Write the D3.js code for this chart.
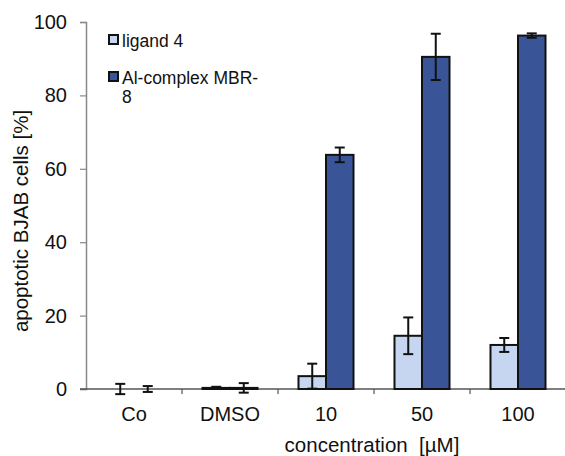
<!DOCTYPE html>
<html>
<head>
<meta charset="utf-8">
<script src="https://cdn.jsdelivr.net/npm/d3@7"></script>
<style>
  body { margin: 0; background: #fff; }
  text { font-family: "Liberation Sans", Arial, sans-serif; fill: #111; }
</style>
</head>
<body>
<div id="chart"></div>
<script>
// Data
const categories = ["Co", "DMSO", "10", "50", "100"];
const seriesNames = ["ligand 4", "Al-complex MBR-8"];
const ligandValues = [0, 0.3, 3.5, 14.5, 12.0];
const ligandErrors = [1.4, 0.3, 3.4, 5.0, 1.9];
const alValues = [0, 0.3, 63.8, 90.5, 96.3];
const alErrors = [0.8, 1.3, 2.0, 6.3, 0.6];
const yTicks = [0, 20, 40, 60, 80, 100];
const colors = ["#c6d5f0", "#3a5498"];

const W = 565, H = 456;
const margin = { top: 22, right: 0, bottom: 67, left: 86 };
const height = H - margin.top - margin.bottom;

const svg = d3.select("#chart")
    .append("svg")
    .attr("width", W)
    .attr("height", H);

const x = d3.scaleBand()
    .domain(categories)
    .range([margin.left, 566])
    .padding(0);

const xInner = d3.scaleBand()
    .domain(seriesNames)
    .range([0, x.bandwidth()])
    .paddingInner(0)
    .paddingOuter(0.745);

const y = d3.scaleLinear()
    .domain([0, 100])
    .range([margin.top + height, margin.top]);

// y axis
const yAxis = svg.append("g")
    .attr("transform", `translate(${margin.left},0)`)
    .call(d3.axisLeft(y).tickValues(yTicks).tickSize(6).tickPadding(13));
yAxis.select(".domain").attr("stroke", "#888").attr("stroke-width", 1.5);
yAxis.selectAll(".tick line").attr("stroke", "#888").attr("stroke-width", 1.2);
yAxis.selectAll(".tick text")
    .style("font-size", "20px")
    .attr("fill", "#111");

// x axis line and group ticks
const y0 = y(0);
svg.append("line")
    .attr("x1", margin.left - 6).attr("x2", 566)
    .attr("y1", y0).attr("y2", y0)
    .attr("stroke", "#555").attr("stroke-width", 1.5);

svg.selectAll(".xtick")
    .data(categories.slice(1))
    .enter().append("line")
    .attr("class", "xtick")
    .attr("x1", d => x(d)).attr("x2", d => x(d))
    .attr("y1", y0).attr("y2", y0 + 5)
    .attr("stroke", "#555").attr("stroke-width", 1.2);

svg.selectAll(".xlabel")
    .data(categories)
    .enter().append("text")
    .attr("class", "xlabel")
    .attr("x", d => x(d) + x.bandwidth() / 2)
    .attr("y", 421)
    .attr("text-anchor", "middle")
    .style("font-size", "20px")
    .text(d => d);

// bars
const rows = categories.map((c, i) => ({
    cat: c,
    vals: [
        { s: seriesNames[0], v: ligandValues[i], e: ligandErrors[i], k: 0 },
        { s: seriesNames[1], v: alValues[i], e: alErrors[i], k: 1 }
    ]
}));

const groups = svg.selectAll(".grp")
    .data(rows)
    .enter().append("g")
    .attr("class", "grp")
    .attr("transform", d => `translate(${x(d.cat)},0)`);

groups.selectAll("rect")
    .data(d => d.vals)
    .enter().append("rect")
    .attr("x", d => xInner(d.s))
    .attr("y", d => y(d.v))
    .attr("width", xInner.bandwidth())
    .attr("height", d => y(0) - y(d.v))
    .attr("fill", d => colors[d.k])
    .attr("stroke", "#111")
    .attr("stroke-width", 2);

// error bars
const err = groups.selectAll(".err")
    .data(d => d.vals)
    .enter().append("g")
    .attr("class", "err")
    .attr("transform", d => `translate(${xInner(d.s) + xInner.bandwidth() / 2},0)`);

err.append("line")
    .attr("y1", d => y(d.v - d.e)).attr("y2", d => y(d.v + d.e))
    .attr("stroke", "#111").attr("stroke-width", 2);
err.append("line")
    .attr("x1", -5).attr("x2", 5)
    .attr("y1", d => y(d.v + d.e)).attr("y2", d => y(d.v + d.e))
    .attr("stroke", "#111").attr("stroke-width", 2);
err.append("line")
    .attr("x1", -5).attr("x2", 5)
    .attr("y1", d => y(d.v - d.e)).attr("y2", d => y(d.v - d.e))
    .attr("stroke", "#111").attr("stroke-width", 2);

// legend
const legend = svg.append("g");
const legendRows = [
    { lines: ["ligand 4"], y: 40 },
    { lines: ["Al-complex MBR-", "8"], y: 77 }
];
legendRows.forEach((r, i) => {
    legend.append("rect")
        .attr("x", 109).attr("y", r.y - 5)
        .attr("width", 9).attr("height", 9)
        .attr("fill", colors[i])
        .attr("stroke", "#111").attr("stroke-width", 2);
    r.lines.forEach((t, j) => {
        legend.append("text")
            .attr("x", 122).attr("y", r.y + 7 + j * 19)
            .style("font-size", "17.5px")
            .text(t);
    });
});

// axis titles
svg.append("text")
    .attr("transform", `translate(28,221) rotate(-90)`)
    .attr("text-anchor", "middle")
    .style("font-size", "20.5px")
    .text("apoptotic BJAB cells [%]");

svg.append("text")
    .attr("x", 372)
    .attr("y", 452)
    .attr("text-anchor", "middle")
    .style("font-size", "20.5px")
    .attr("xml:space", "preserve")
    .text("concentration  [µM]");
</script>
</body>
</html>
